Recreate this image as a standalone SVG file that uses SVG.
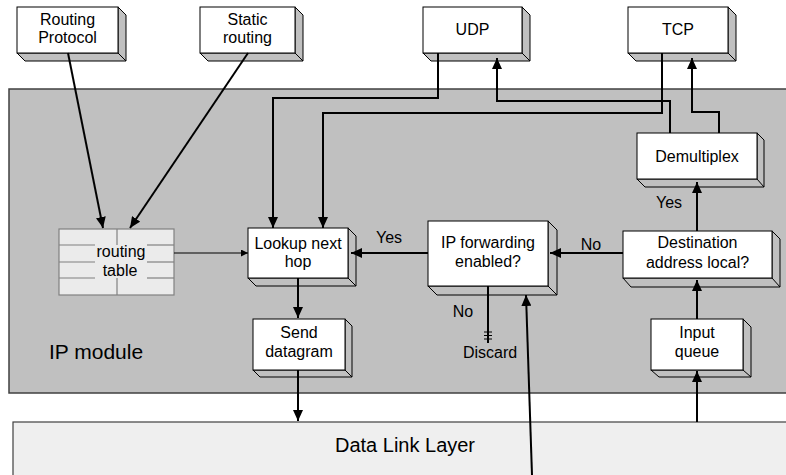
<svg xmlns="http://www.w3.org/2000/svg" width="786" height="475" viewBox="0 0 786 475">
<style>
.t{font-family:"Liberation Sans",Arial,sans-serif;font-size:16px;fill:#000;text-anchor:middle}
.front{fill:#fff;stroke:#000;stroke-width:1}
.depth{fill:#c0c0c0;stroke:#000;stroke-width:1;stroke-linejoin:round}
.c{fill:none;stroke:#000;stroke-width:2}
.thin{fill:none;stroke:#000;stroke-width:1}
</style>
<defs>
<marker id="ah" markerUnits="userSpaceOnUse" markerWidth="12" markerHeight="10" refX="11" refY="5" orient="auto">
<path d="M0,0 L11,5 L0,10 z" fill="#000"/>
</marker>
<marker id="ahs" markerUnits="userSpaceOnUse" markerWidth="8" markerHeight="8" refX="7" refY="3.5" orient="auto">
<path d="M0,0 L7,3.5 L0,7 z" fill="#000"/>
</marker>
</defs>
<rect width="786" height="475" fill="#fff"/>
<g id="ipModule">
<rect x="9" y="89" width="790" height="304" fill="#c0c0c0" stroke="#404040" stroke-width="1.5"/>
<text x="96" y="359" class="t" style="font-size:21px">IP module</text>
</g>
<g id="dataLinkLayer">
<rect x="13" y="422" width="790" height="70" fill="#efefef" stroke="#404040" stroke-width="1.2"/>
<text x="405" y="452" class="t" style="font-size:20px">Data Link Layer</text>
</g>
<g id="routingProtocol">
<polygon class="depth" points="118,7 126,15 126,61 25,61 17,53 118,53"/>
<line x1="118" y1="53" x2="126" y2="61" stroke="#000"/>
<rect class="front" x="17" y="7" width="101" height="46"/>
<text class="t" x="67.5" y="25">Routing</text>
<text class="t" x="67.5" y="43">Protocol</text>
</g>
<g id="staticRouting">
<polygon class="depth" points="295,7 303,15 303,61 208,61 200,53 295,53"/>
<line x1="295" y1="53" x2="303" y2="61" stroke="#000"/>
<rect class="front" x="200" y="7" width="95" height="46"/>
<text class="t" x="247.5" y="25">Static</text>
<text class="t" x="247.5" y="43">routing</text>
</g>
<g id="udp">
<polygon class="depth" points="522,7 530,15 530,61 431,61 423,53 522,53"/>
<line x1="522" y1="53" x2="530" y2="61" stroke="#000"/>
<rect class="front" x="423" y="7" width="99" height="46"/>
<text class="t" x="472.5" y="35">UDP</text>
</g>
<g id="tcp">
<polygon class="depth" points="728,7 736,15 736,61 636,61 628,53 728,53"/>
<line x1="728" y1="53" x2="736" y2="61" stroke="#000"/>
<rect class="front" x="628" y="7" width="100" height="46"/>
<text class="t" x="678" y="35">TCP</text>
</g>
<g id="routingTable">
<rect x="59" y="229" width="115" height="66" fill="#ebebeb" stroke="#808080" stroke-width="1.2"/>
<g stroke="#808080" stroke-width="1.2">
<line x1="59" y1="245" x2="95" y2="245"/>
<line x1="147" y1="245" x2="174" y2="245"/>
<line x1="59" y1="262" x2="95" y2="262"/>
<line x1="147" y1="262" x2="174" y2="262"/>
<line x1="59" y1="278" x2="95" y2="278"/>
<line x1="147" y1="278" x2="174" y2="278"/>
<line x1="117" y1="229" x2="117" y2="245"/>
<line x1="117" y1="278" x2="117" y2="295"/>
</g>
<text class="t" x="121" y="257">routing</text>
<text class="t" x="120" y="276">table</text>
</g>
<g id="lookupNextHop">
<polygon class="depth" points="348,228 356,236 356,286 256,286 248,278 348,278"/>
<line x1="348" y1="278" x2="356" y2="286" stroke="#000"/>
<rect class="front" x="248" y="228" width="100" height="50"/>
<text class="t" x="298" y="249">Lookup next</text>
<text class="t" x="298" y="267">hop</text>
</g>
<g id="sendDatagram">
<polygon class="depth" points="345,319 352,326 352,377 260,377 253,370 345,370"/>
<line x1="345" y1="370" x2="352" y2="377" stroke="#000"/>
<rect class="front" x="253" y="319" width="92" height="51"/>
<text class="t" x="299" y="338">Send</text>
<text class="t" x="299" y="356.5">datagram</text>
</g>
<g id="ipForwarding">
<polygon class="depth" points="548,221 557,230 557,295 437,295 428,286 548,286"/>
<line x1="548" y1="286" x2="557" y2="295" stroke="#000"/>
<rect class="front" x="428" y="221" width="120" height="65"/>
<text class="t" x="488" y="248">IP forwarding</text>
<text class="t" x="488" y="267">enabled?</text>
</g>
<g id="destinationLocal">
<polygon class="depth" points="772,231 780,239 780,287 631,287 623,278 772,278"/>
<line x1="772" y1="278" x2="780" y2="287" stroke="#000"/>
<rect class="front" x="623" y="231" width="149" height="47"/>
<text class="t" x="697.5" y="248">Destination</text>
<text class="t" x="697.5" y="268">address local?</text>
</g>
<g id="demultiplex">
<polygon class="depth" points="757,133 764,140 764,187 645,187 637,179 757,179"/>
<line x1="757" y1="179" x2="764" y2="187" stroke="#000"/>
<rect class="front" x="637" y="133" width="120" height="46"/>
<text class="t" x="697" y="162">Demultiplex</text>
</g>
<g id="inputQueue">
<polygon class="depth" points="743,319 751,327 751,377 659,377 651,370 743,370"/>
<line x1="743" y1="370" x2="751" y2="377" stroke="#000"/>
<rect class="front" x="651" y="319" width="92" height="51"/>
<text class="t" x="697" y="338">Input</text>
<text class="t" x="697" y="357">queue</text>
</g>
<g id="connectors">
<path class="c" d="M68,53 L103,228" marker-end="url(#ah)"/>
<path class="c" d="M248,53 L130,228" marker-end="url(#ah)"/>
<path class="thin" d="M174,253 L248,253" marker-end="url(#ahs)"/>
<path class="c" d="M438,53 V98 H273 V228" marker-end="url(#ah)"/>
<path class="c" d="M662,53 V113 H323 V228" marker-end="url(#ah)"/>
<path class="c" d="M670,133 V101 H497 V58" marker-end="url(#ah)"/>
<path class="c" d="M719,133 V112 H692 V58" marker-end="url(#ah)"/>
<path class="c" d="M428,253 H351" marker-end="url(#ah)"/>
<path class="c" d="M623,253 H550" marker-end="url(#ah)"/>
<path class="c" d="M697,231 V182" marker-end="url(#ah)"/>
<path class="c" d="M697,319 V280" marker-end="url(#ah)"/>
<path class="c" d="M697,422 V371" marker-end="url(#ah)"/>
<path class="c" d="M298,278 V318" marker-end="url(#ah)"/>
<path class="c" d="M298,370 V421" marker-end="url(#ah)"/>
<path class="c" d="M532,475 L526,295" marker-end="url(#ah)"/>
<path class="c" d="M488,286 V343"/>
<path class="thin" d="M484,332 H492 M484,335.5 H492 M484,339 H492" stroke-width="1.3"/>
<text class="t" x="389" y="243">Yes</text>
<text class="t" x="591" y="250">No</text>
<text class="t" x="463" y="317">No</text>
<text class="t" x="490" y="358">Discard</text>
<text class="t" x="669" y="208">Yes</text>
</g>
</svg>
